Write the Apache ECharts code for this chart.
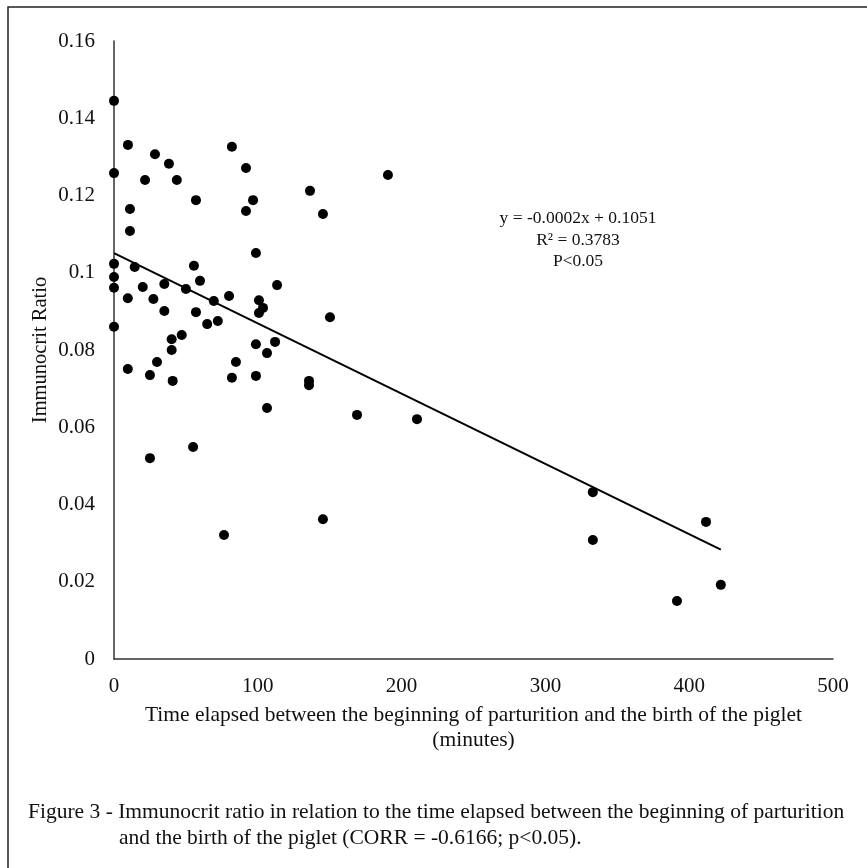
<!DOCTYPE html>
<html>
<head>
<meta charset="utf-8">
<script src="https://cdn.jsdelivr.net/npm/echarts@6/dist/echarts.min.js"></script>
<style>
  html, body { margin: 0; padding: 0; background: #fff; }
  #chart { width: 867px; height: 868px; }
</style>
</head>
<body>
<div id="chart"></div>
<script>
// minutes from start of parturition to birth of each piglet
var timeMin = [
  0, 0, 0, 0, 0, 0,
  9.7, 11.1, 11.1, 28.5, 38.2, 21.6, 43.7, 57, 82, 91.8, 96.7, 91.8, 136.3, 145.3, 190.5,
  98.7, 14.4, 55.6, 59.8, 20, 35, 50, 80, 9.6, 27.4, 69.4, 35, 57, 64.8, 72.2, 47.1,
  40.1, 40.1, 29.9, 9.6, 25, 40.8, 84.8, 82, 113.4, 100.8, 103.6, 100.8, 150.2,
  98.7, 112, 106.4, 98.7, 135.6, 135.6, 25, 55, 106.4, 169, 76.5, 145.3, 210.7,
  333, 333, 411.7, 422, 391.5
];
// immunocrit ratio of each piglet
var ratio = [
  0.1445, 0.1258, 0.1023, 0.0989, 0.0961, 0.0860,
  0.1331, 0.1165, 0.1108, 0.1307, 0.1282, 0.1240, 0.1240, 0.1188, 0.1326, 0.1271, 0.1188, 0.1160, 0.1212, 0.1152, 0.1253,
  0.1051, 0.1015, 0.1018, 0.0979, 0.0963, 0.0971, 0.0958, 0.0940, 0.0934, 0.0932, 0.0927, 0.0901, 0.0898, 0.0867, 0.0875, 0.0839,
  0.0828, 0.0800, 0.0769, 0.0751, 0.0735, 0.0720, 0.0769, 0.0728, 0.0968, 0.0929, 0.0909, 0.0896, 0.0885,
  0.0815, 0.0821, 0.0792, 0.0733, 0.0720, 0.0709, 0.0520, 0.0549, 0.0650, 0.0632, 0.0321, 0.0362, 0.0621,
  0.0432, 0.0308, 0.0355, 0.0192, 0.0150
];
// linear trend line endpoints
var trendX = [0, 422];
var trendY = [0.1051, 0.0283];

var xTicks = [0, 100, 200, 300, 400, 500];
var yTicks = [0, 0.02, 0.04, 0.06, 0.08, 0.1, 0.12, 0.14, 0.16];

var serif = '"Liberation Serif", "DejaVu Serif", serif';

var points = timeMin.map(function (t, i) { return [t, ratio[i]]; });
var trend = trendX.map(function (t, i) { return [t, trendY[i]]; });

var chart = echarts.init(document.getElementById('chart'));
chart.setOption({
  backgroundColor: '#fff',
  animation: false,
  grid: { left: 114, right: 34, top: 41, bottom: 209 },
  xAxis: {
    type: 'value',
    min: xTicks[0],
    max: xTicks[xTicks.length - 1],
    interval: 100,
    name: 'Time elapsed between the beginning of parturition and the birth of the piglet\n(minutes)',
    nameLocation: 'middle',
    nameGap: 44,
    nameMoveOverlap: false,
    nameTextStyle: { fontFamily: serif, fontSize: 21.5, color: '#111', lineHeight: 25 },
    axisLine: { show: true, lineStyle: { color: '#333', width: 1.5 } },
    axisTick: { show: false },
    splitLine: { show: false },
    axisLabel: { fontFamily: serif, fontSize: 21, color: '#111', margin: 17 }
  },
  yAxis: {
    type: 'value',
    min: yTicks[0],
    max: yTicks[yTicks.length - 1],
    interval: 0.02,
    name: 'Immunocrit Ratio',
    nameLocation: 'middle',
    nameRotate: 90,
    nameGap: 63,
    nameMoveOverlap: false,
    nameTextStyle: { fontFamily: serif, fontSize: 20.5, color: '#111' },
    axisLine: { show: true, lineStyle: { color: '#333', width: 1.5 } },
    axisTick: { show: false },
    splitLine: { show: false },
    axisLabel: {
      fontFamily: serif, fontSize: 21, color: '#111', margin: 19,
      formatter: function (v) { return String(+v.toFixed(2)); }
    }
  },
  series: [
    {
      type: 'scatter',
      data: points,
      symbol: 'circle',
      symbolSize: 10,
      itemStyle: { color: '#000', opacity: 1 },
      z: 3
    },
    {
      type: 'line',
      data: trend,
      symbol: 'none',
      lineStyle: { color: '#000', width: 2 },
      z: 2
    }
  ],
  graphic: [
    {
      type: 'rect',
      shape: { x: 8, y: 7, width: 880, height: 880 },
      style: { fill: 'none', stroke: '#222', lineWidth: 1.5 },
      silent: true
    },
    {
      type: 'text', x: 578, y: 240,
      style: {
        text: 'y = -0.0002x + 0.1051\nR² = 0.3783\nP<0.05',
        font: '17.5px ' + serif, fill: '#111', align: 'center', verticalAlign: 'middle', lineHeight: 21.5
      }
    },
    {
      type: 'text', x: 28, y: 812,
      style: {
        text: 'Figure 3 - Immunocrit ratio in relation to the time elapsed between the beginning of parturition',
        font: '21.5px ' + serif, fill: '#111', verticalAlign: 'middle'
      }
    },
    {
      type: 'text', x: 119, y: 838,
      style: {
        text: 'and the birth of the piglet (CORR = -0.6166; p<0.05).',
        font: '21.5px ' + serif, fill: '#111', verticalAlign: 'middle'
      }
    }
  ]
});
</script>
</body>
</html>
